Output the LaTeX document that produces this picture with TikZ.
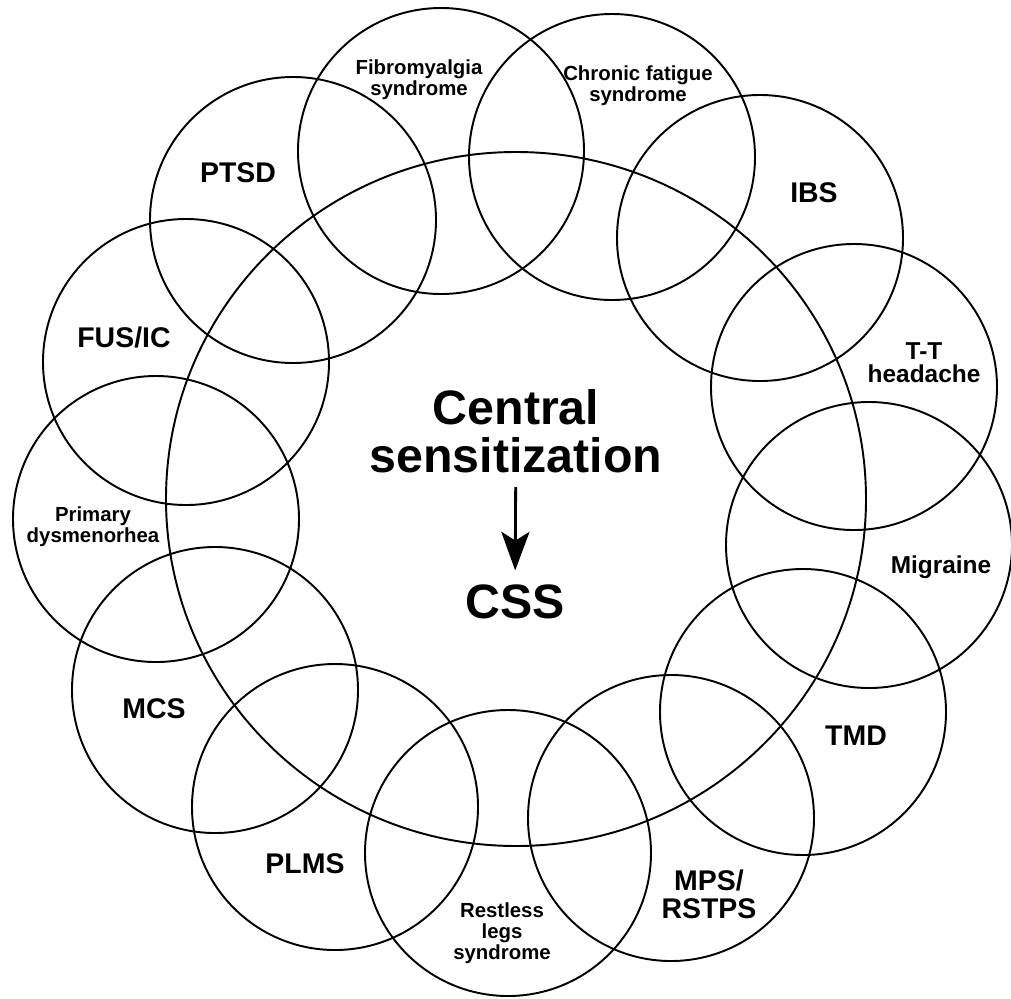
\documentclass[tikz,border=0pt]{standalone}
\usepackage{fontspec}
\setmainfont{Liberation Sans}
\usepackage{tikz}
\usetikzlibrary{arrows.meta}
\tikzstyle{ring}=[line width=1.1pt]
\tikzstyle{biglab}=[font=\bfseries\fontsize{16.2}{15.9}\selectfont, align=center, inner sep=0pt]
\tikzstyle{midlab}=[font=\bfseries\fontsize{13.9}{13}\selectfont, align=center, inner sep=0pt]
\tikzstyle{smalllab}=[font=\bfseries\fontsize{11.6}{11.9}\selectfont, align=center, inner sep=0pt]
\tikzstyle{corelab}=[font=\bfseries\fontsize{27.5}{27.2}\selectfont, align=center, inner sep=0pt]
\newcommand{\scircle}[5]{
 \draw[ring] #1 circle (143);
 \node[#4] (#2) at #3 {#5};
}

\begin{document}
\begin{tikzpicture}[x=0.02cm, y=-0.02cm]
 \useasboundingbox (0,0) rectangle (1011,998);
%
 \draw[ring] (516,499) ellipse [x radius=350, y radius=347];
%
 \scircle{(441,151)}{fibro}{(419,80)}{smalllab}{Fibromyalgia\\syndrome}
 \scircle{(612,157)}{cfs}{(638,86)}{smalllab}{Chronic fatigue\\syndrome}
 \scircle{(760,238)}{ibs}{(814,193)}{biglab}{IBS}
 \scircle{(854,387)}{tth}{(924,363)}{midlab}{T-T\\headache}
 \scircle{(869,545)}{migraine}{(941,567)}{midlab}{Migraine}
 \scircle{(803,712)}{tmd}{(856,736)}{biglab}{TMD}
 \scircle{(671,818)}{mps}{(709,894)}{biglab}{MPS/\\RSTPS}
 \scircle{(508,853)}{rls}{(502,933)}{smalllab}{Restless\\legs\\syndrome}
 \scircle{(335,807)}{plms}{(305,864)}{biglab}{PLMS}
 \scircle{(215,690)}{mcs}{(154,709)}{biglab}{MCS}
 \scircle{(156,519)}{pd}{(93,527)}{smalllab}{Primary\\dysmenorhea}
 \scircle{(186,362)}{fus}{(124,337)}{biglab}{FUS/IC}
 \scircle{(293,220)}{ptsd}{(238,173)}{biglab}{PTSD}
%
 \node[corelab] (cs) at (516,431) {Central\\sensitization};
 \node[corelab] (css) at (515,602) {CSS};
 \draw[line width=1.6pt, -{Stealth[length=22pt, width=16pt, inset=5pt]}, shorten <=8pt, shorten >=8pt] (cs) -- (css);
\end{tikzpicture}
\end{document}
